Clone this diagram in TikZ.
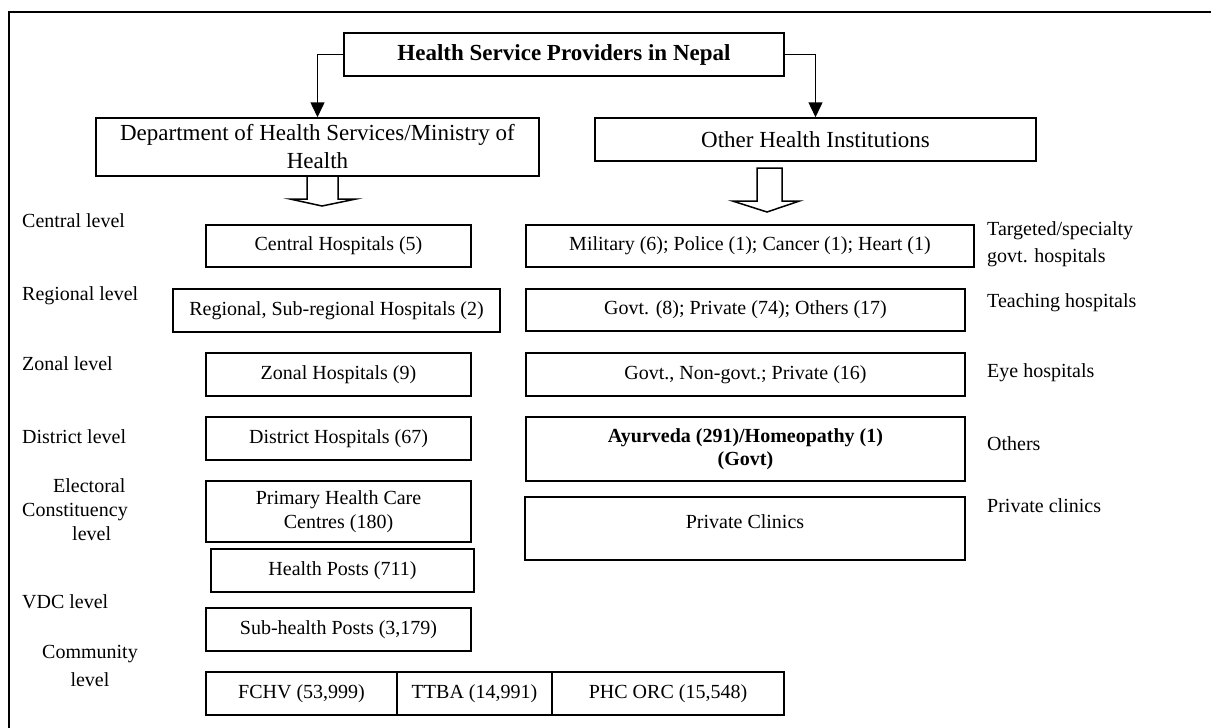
\documentclass[tikz,border=0pt]{standalone}
\usepackage{fontspec}
\setmainfont{Liberation Serif}
\usepackage{tikz}
\usetikzlibrary{positioning,arrows.meta}

\newcommand{\fsbody}{\fontsize{20}{24}\selectfont}
\newcommand{\fstop}{\fontsize{23}{28}\selectfont}

\begin{document}
\begin{tikzpicture}[x=1pt,y=-1pt,
  box/.style={draw,line width=1.5pt,inner sep=0pt,align=center,font=\fsbody},
  lvl/.style={anchor=west,inner sep=0pt,font=\fsbody,text height=14pt,text depth=4pt},
  lvlm/.style={anchor=north west,inner sep=0pt,align=left},
  conn/.style={line width=1.5pt,-{Triangle[length=15pt,width=14pt]}}]
  \useasboundingbox (0,0) rectangle (1211,728);
  \draw[line width=2pt] (8.5,728) -- (8.5,12) -- (1211,12);

  \node[box,font=\fstop\bfseries,minimum width=440pt,minimum height=43pt] (title) at (564,54.5) {Health Service Providers in Nepal};
  \node[box,font=\fstop,minimum width=443pt,minimum height=58pt] (dept) at (317.5,147) {Department of Health Services/Ministry of\\Health};
  \node[box,font=\fstop,minimum width=441pt,minimum height=43pt] (ohi) at (815.5,139.5) {Other Health Institutions};
  \draw[conn] (title.west) -| (dept.north);
  \draw[conn] (title.east) -| (ohi.north);

  \draw[line width=1.5pt] (307,176) -- (307,199) -- (290,199) -- (322,206) -- (356,199) -- (338,199) -- (338,176);
  \draw[line width=1.5pt] (757,168) -- (757,201) -- (732.5,201) -- (767,212) -- (799.5,201) -- (782,201) -- (782,168) -- cycle;

  \node[box,minimum width=265pt,minimum height=42pt] (central) at (338.5,246) {Central Hospitals (5)};
  \node[box,minimum width=327pt,minimum height=43pt] (regional) at (336.5,310.5) {Regional, Sub-regional Hospitals (2)};
  \node[box,minimum width=265pt,minimum height=43pt] (zonal) at (338.5,374.5) {Zonal Hospitals (9)};
  \node[box,minimum width=265pt,minimum height=43pt] (district) at (338.5,438.5) {District Hospitals (67)};
  \node[box,minimum width=265pt,minimum height=61pt] (phcc) at (338.5,511.5) {Primary Health Care\\Centres (180)};
  \node[box,minimum width=263pt,minimum height=43pt] (hpost) at (342.5,570.5) {Health Posts (711)};
  \node[box,minimum width=265pt,minimum height=43pt] (shpost) at (338.5,629.5) {Sub-health Posts (3,179)};
  \node[box,minimum width=191pt,minimum height=43pt] (fchv) at (301.5,693.5) {FCHV (53,999)};
  \node[box,minimum width=155pt,minimum height=43pt] (ttba) at (474.5,693.5) {TTBA (14,991)};
  \node[box,minimum width=232pt,minimum height=43pt] (phcorc) at (668,693.5) {PHC ORC (15,548)};

  \node[box,minimum width=448pt,minimum height=42pt] (special) at (750,246) {Military (6); Police (1); Cancer (1); Heart (1)};
  \node[box,minimum width=439pt,minimum height=42pt] (teach) at (745.5,310) {Govt. (8); Private (74); Others (17)};
  \node[box,minimum width=439pt,minimum height=43pt] (eye) at (745.5,374.5) {Govt., Non-govt.; Private (16)};
  \node[box,font=\fontsize{20}{23}\selectfont\bfseries,minimum width=439pt,minimum height=64pt] (ayur) at (745.5,449) {Ayurveda (291)/Homeopathy (1)\\(Govt)};
  \node[box,minimum width=440pt,minimum height=63pt,text height=14pt,text depth=14pt] (clinic) at (745,528.5) {Private Clinics};

  \node[lvl] (lcentral) at (22,222) {Central level};
  \node[lvl] (lregional) at (22,295) {Regional level};
  \node[lvl] (lzonal) at (22,365) {Zonal level};
  \node[lvl] (ldistrict) at (22,438) {District level};
  \node[lvlm,font=\fontsize{20}{24}\selectfont] (lelect) at (22,478) {\hspace{31pt}Electoral\\Constituency\\\hspace{50pt}level};
  \node[lvl] (lvdc) at (22,603) {VDC level};
  \node[lvlm,align=center,font=\fontsize{20}{28}\selectfont] (lcomm) at (42,645) {Community\\level};

  \node[lvlm,font=\fontsize{20}{27}\selectfont] (rspecial) at (987,221) {Targeted/specialty\\govt. hospitals};
  \node[lvl] (rteach) at (987,302) {Teaching hospitals};
  \node[lvl] (reye) at (987,372) {Eye hospitals};
  \node[lvl] (rothers) at (987,445) {Others};
  \node[lvl] (rclinic) at (987,507) {Private clinics};
\end{tikzpicture}
\end{document}
